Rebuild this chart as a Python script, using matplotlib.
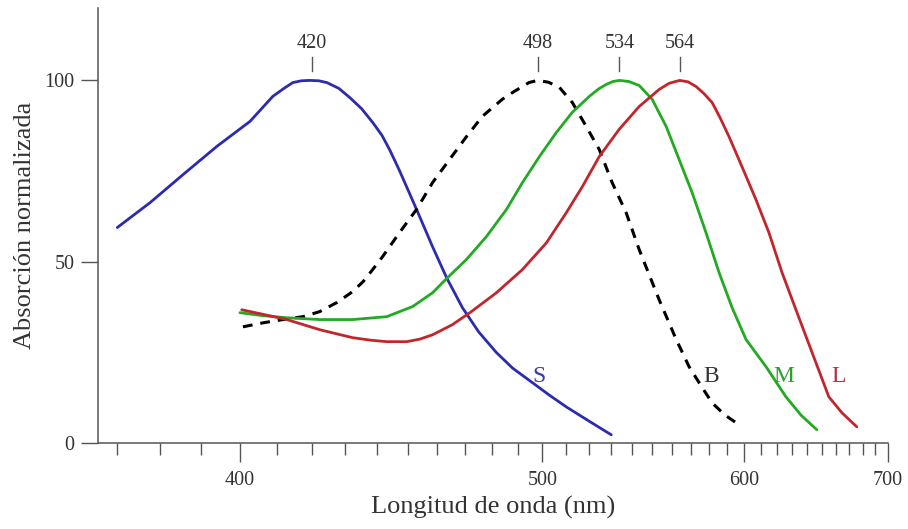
import matplotlib
matplotlib.use("Agg")
import matplotlib.pyplot as plt
import numpy as np

plt.rcParams['font.family'] = ['Liberation Serif', 'DejaVu Serif']

# absorption curves (wavelength nm, normalized absorption)
s_wl = [370.0, 377.6, 385.5, 394.0, 402.7, 408.9, 412.0, 414.5, 417.0, 419.4, 422.0,
        424.4, 428.0, 431.3, 435.0, 438.5, 441.5, 444.0, 447.2, 452.9, 458.4, 463.3,
        469.0, 475.0, 481.7, 488.0, 495.9, 503.0, 510.1, 520.0, 530.2]
s_abs = [59.4, 66.3, 74.0, 81.8, 88.7, 95.6, 97.8, 99.4, 99.9, 100.0, 99.9,
         99.4, 97.8, 95.3, 92.2, 88.4, 84.8, 80.8, 75.1, 64.4, 54.1, 45.6,
         37.3, 30.6, 24.9, 20.6, 16.6, 13.1, 9.9, 6.0, 2.2]

b_wl = [400.8, 406.2, 411.7, 417.4, 422.3, 427.4, 432.2, 435.5, 438.5, 441.7, 447.2,
        452.9, 458.4, 464.4, 470.5, 476.4, 484.0, 488.5, 491.9, 494.5, 498.0, 502.5,
        507.1, 512.7, 518.8, 524.7, 530.6, 537.2, 543.5, 553.4, 562.2, 569.0, 574.4,
        581.6, 589.0, 597.0]
b_abs = [32.0, 33.1, 34.0, 34.8, 36.2, 38.7, 41.7, 44.5, 47.8, 51.4, 58.0,
         64.4, 71.8, 78.2, 84.5, 90.1, 94.8, 96.9, 98.3, 99.4, 100.0, 99.5,
         98.1, 93.9, 87.3, 80.9, 71.8, 63.5, 53.3, 39.5, 28.5, 21.0, 16.6,
         11.0, 7.6, 5.0]

m_wl = [400.0, 406.0, 412.8, 422.3, 432.2, 443.0, 451.6, 458.4, 463.3, 470.5, 477.9,
        485.6, 491.9, 498.8, 505.8, 512.7, 520.2, 524.5, 527.9, 531.0, 534.0, 538.5,
        543.5, 549.9, 557.0, 563.7, 570.6, 578.2, 585.5, 593.0, 601.2, 613.4, 626.0,
        636.0, 646.7]
m_abs = [35.9, 35.1, 34.5, 34.0, 34.0, 34.8, 37.6, 41.4, 45.3, 50.6, 56.9,
         64.4, 71.8, 79.0, 85.6, 91.2, 95.6, 97.7, 98.9, 99.7, 100.0, 99.7,
         98.6, 94.8, 87.3, 78.2, 69.1, 58.0, 47.0, 37.3, 28.5, 21.0, 12.7,
         7.6, 3.6]

l_wl = [400.5, 406.0, 412.8, 422.3, 432.2, 438.0, 443.0, 449.6, 454.0, 458.4, 465.4,
        472.3, 481.7, 491.9, 501.7, 510.1, 517.1, 524.7, 533.9, 543.5, 553.4, 558.5,
        564.0, 568.5, 572.8, 577.0, 581.6, 586.0, 591.2, 598.8, 607.2, 615.2, 623.5,
        634.6, 646.1, 655.1, 664.5, 675.6]
l_abs = [36.7, 35.5, 34.0, 31.2, 29.0, 28.3, 27.9, 27.9, 28.6, 29.8, 32.6,
         36.2, 41.4, 47.8, 55.2, 63.5, 70.7, 79.0, 86.5, 92.8, 97.5, 99.2,
         100.0, 99.6, 98.3, 96.4, 93.9, 89.8, 84.5, 76.2, 67.1, 58.0, 47.0,
         34.5, 22.1, 12.7, 8.3, 4.4]

peaks = [420, 498, 534, 564]
curve_names = ['S', 'B', 'M', 'L']
name_x = [498.8, 581.0, 624.7, 662.3]
name_colors = ['#3b3ba0', '#333333', '#2e9e2e', '#b5303c']

fig = plt.figure(figsize=(9.08, 5.29), dpi=100)
ax = fig.add_axes([0.108, 0.163, 0.870, 0.822])

# wavenumber-like axis: linear in 1/lambda
ax.set_xscale('function', functions=(lambda x: -1.0 / x, lambda u: -1.0 / u))

ax.plot(s_wl, s_abs, color='#2b2bb0', lw=2.0, solid_capstyle='round', solid_joinstyle='round')
ax.plot(b_wl, b_abs, color='black', lw=2.2, dashes=(3.2, 2.6))
ax.plot(m_wl, m_abs, color='#22aa22', lw=2.0, solid_capstyle='round', solid_joinstyle='round')
ax.plot(l_wl, l_abs, color='#c2262c', lw=2.0, solid_capstyle='round', solid_joinstyle='round')

for p in peaks:
    ax.plot([p, p], [102.5, 106.5], color='#555555', lw=1.0, clip_on=False)
    ax.text(p, 107.6, str(p), ha='center', va='bottom', fontsize=14.5, color='#333333')

for name, xn, c in zip(curve_names, name_x, name_colors):
    ax.text(xn, 18.2, name, ha='center', va='center', fontsize=17, color=c)

ax.set_xlim(365.7, 700)
ax.set_ylim(0, 120)

ax.set_xticks([400, 500, 600, 700])
ax.set_xticks([w for w in range(370, 700, 10) if w % 100 != 0], minor=True)
ax.xaxis.set_minor_formatter(matplotlib.ticker.NullFormatter())
ax.set_yticks([0, 50, 100])

for side in ['top', 'right']:
    ax.spines[side].set_visible(False)
for side in ['left', 'bottom']:
    ax.spines[side].set_color('#555555')
    ax.spines[side].set_linewidth(1.1)

ax.tick_params(axis='x', which='major', length=13.5, width=1.0, color='#555555',
               labelsize=14.5, labelcolor='#333333', pad=7)
ax.tick_params(axis='x', which='minor', length=8.5, width=1.0, color='#555555')
ax.tick_params(axis='y', which='major', length=12, width=1.0, color='#555555',
               labelsize=14.5, labelcolor='#333333', pad=5)

ax.set_xlabel('Longitud de onda (nm)', fontsize=19, color='#333333', labelpad=4)
ax.set_ylabel('Absorción normalizada', fontsize=19, color='#333333', labelpad=6)

fig.savefig('out.png', dpi=100)
